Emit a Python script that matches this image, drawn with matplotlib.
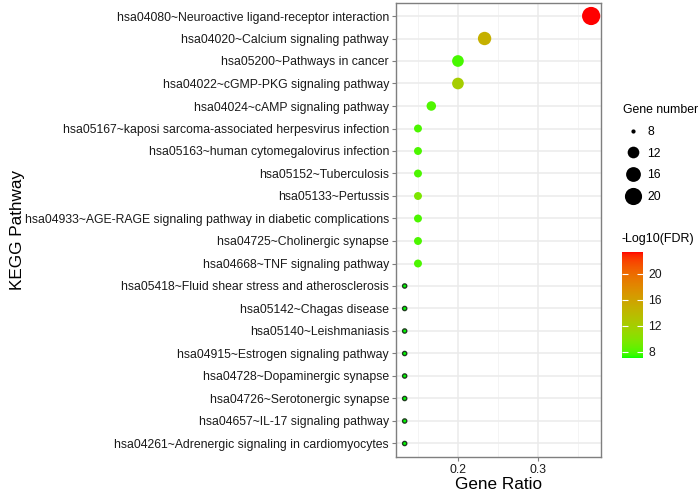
import numpy as np
import matplotlib
matplotlib.use("Agg")
import matplotlib.pyplot as plt
from matplotlib.colors import ListedColormap, Normalize
from matplotlib.lines import Line2D

plt.rcParams['font.family'] = ['Liberation Sans', 'DejaVu Sans']

# data, top row first
pathways = [
    "hsa04080~Neuroactive ligand-receptor interaction",
    "hsa04020~Calcium signaling pathway",
    "hsa05200~Pathways in cancer",
    "hsa04022~cGMP-PKG signaling pathway",
    "hsa04024~cAMP signaling pathway",
    "hsa05167~kaposi sarcoma-associated herpesvirus infection",
    "hsa05163~human cytomegalovirus infection",
    "hsa05152~Tuberculosis",
    "hsa05133~Pertussis",
    "hsa04933~AGE-RAGE signaling pathway in diabetic complications",
    "hsa04725~Cholinergic synapse",
    "hsa04668~TNF signaling pathway",
    "hsa05418~Fluid shear stress and atherosclerosis",
    "hsa05142~Chagas disease",
    "hsa05140~Leishmaniasis",
    "hsa04915~Estrogen signaling pathway",
    "hsa04728~Dopaminergic synapse",
    "hsa04726~Serotonergic synapse",
    "hsa04657~IL-17 signaling pathway",
    "hsa04261~Adrenergic signaling in cardiomyocytes",
]
gene_number = [22, 14, 12, 12, 10, 9, 9, 9, 9, 9, 9, 9, 8, 8, 8, 8, 8, 8, 8, 8]
gene_ratio = [22/60, 14/60, 12/60, 12/60, 10/60, 9/60, 9/60, 9/60, 9/60, 9/60,
              9/60, 9/60, 8/60, 8/60, 8/60, 8/60, 8/60, 8/60, 8/60, 8/60]
log_fdr = [23.4, 14.8, 7.8, 12.0, 8.0, 7.9, 7.9, 7.9, 9.6, 7.9,
           7.9, 7.9, 7.0, 7.0, 7.0, 7.0, 7.0, 7.0, 7.0, 7.0]
size_breaks = [8, 12, 16, 20]
color_ticks = [8, 12, 16, 20]


# green -> red gradient interpolated in Lab like ggplot
def srgb_to_lab(rgb):
    c = np.array(rgb, dtype=float)
    lin = np.where(c <= 0.04045, c / 12.92, ((c + 0.055) / 1.055) ** 2.4)
    m = np.array([[0.4124, 0.3576, 0.1805],
                  [0.2126, 0.7152, 0.0722],
                  [0.0193, 0.1192, 0.9505]])
    xyz = m @ lin / np.array([0.95047, 1.0, 1.08883])
    f = np.where(xyz > 0.008856, np.cbrt(xyz), 7.787 * xyz + 16 / 116)
    return np.array([116 * f[1] - 16, 500 * (f[0] - f[1]), 200 * (f[1] - f[2])])


def lab_to_srgb(lab):
    L, a, b = lab
    fy = (L + 16) / 116
    fx = fy + a / 500
    fz = fy - b / 200
    f = np.array([fx, fy, fz])
    xyz = np.where(f ** 3 > 0.008856, f ** 3, (f - 16 / 116) / 7.787)
    xyz = xyz * np.array([0.95047, 1.0, 1.08883])
    minv = np.array([[3.2406, -1.5372, -0.4986],
                     [-0.9689, 1.8758, 0.0415],
                     [0.0557, -0.2040, 1.0570]])
    lin = minv @ xyz
    lin = np.clip(lin, 0, 1)
    c = np.where(lin <= 0.0031308, 12.92 * lin, 1.055 * lin ** (1 / 2.4) - 0.055)
    return np.clip(c, 0, 1)


lo = srgb_to_lab([0, 1, 0])
hi = srgb_to_lab([1, 0, 0])
cmap = ListedColormap([lab_to_srgb(lo + (hi - lo) * t) for t in np.linspace(0, 1, 256)])
norm = Normalize(vmin=min(log_fdr), vmax=max(log_fdr))


def point_size(n):
    # area scale, range 1..6 like scale_size
    sz = 1 + 5 * np.sqrt((np.asarray(n, dtype=float) - 8) / (22 - 8))
    d_px = sz * 2.8 + 1.4
    return (d_px * 0.72) ** 2


fig = plt.figure(figsize=(6.99, 4.95), dpi=100)
ax = fig.add_axes([396 / 699, 1 - 457 / 495, 205 / 699, 454.5 / 495])

ypos = np.arange(len(pathways))
gn = np.array(gene_number)
small = gn == 8
ax.scatter(np.array(gene_ratio)[~small], ypos[~small], s=point_size(gn[~small]),
           c=np.array(log_fdr)[~small], cmap=cmap, norm=norm, linewidths=0, zorder=3)
ax.scatter(np.array(gene_ratio)[small], ypos[small], s=point_size(gn[small]),
           c=np.array(log_fdr)[small], cmap=cmap, norm=norm,
           edgecolors='#1f3d1f', linewidths=1.0, zorder=3)

ax.set_ylim(len(pathways) - 0.4, -0.6)
ax.set_xlim(0.1225, 0.379)
ax.set_yticks(ypos)
ax.set_yticklabels(pathways)
ax.set_xticks([0.2, 0.3])
ax.set_xticklabels(["0.2", "0.3"])
ax.set_xticks([0.15, 0.25, 0.35], minor=True)
ax.grid(True, which='major', color='#ebebeb', linewidth=1.1, zorder=0)
ax.grid(True, which='minor', axis='x', color='#f2f2f2', linewidth=0.6, zorder=0)
ax.set_axisbelow(True)
for sp in ax.spines.values():
    sp.set_color('#7f7f7f')
    sp.set_linewidth(1.0)
ax.tick_params(axis='both', which='major', length=3, color='#7f7f7f',
               labelsize=8.8, labelcolor='#1a1a1a', pad=2)
ax.tick_params(axis='x', which='minor', length=0)
ax.set_xlabel("Gene Ratio", fontsize=12.3, labelpad=1)
ax.set_ylabel("KEGG Pathway", fontsize=12.3)
ax.yaxis.set_label_coords((25 - 396) / 205, 0.5)

# size legend
handles = [Line2D([], [], linestyle='none', marker='o', color='black',
                  markersize=np.sqrt(point_size(b)), markeredgewidth=0) for b in size_breaks]
leg = fig.legend(handles, [str(b) for b in size_breaks], title="Gene number",
                 loc='upper left', bbox_to_anchor=(612 / 699, 1 - 93 / 495),
                 frameon=False, fontsize=8.8, title_fontsize=8.8,
                 labelspacing=0.8, handletextpad=0.4, handlelength=1.6)
leg._legend_box.align = "left"

# colour bar
fig.text(621 / 699, 1 - 239 / 495, "-Log10(FDR)", fontsize=9.0, va='center', ha='left')
cax = fig.add_axes([622 / 699, 1 - 358 / 495, 21 / 699, 106 / 495])
sm = plt.cm.ScalarMappable(cmap=cmap, norm=norm)
cb = fig.colorbar(sm, cax=cax)
cb.outline.set_visible(False)
cb.set_ticks(color_ticks)
cb.ax.tick_params(direction='in', color='white', length=4, width=0.8,
                  left=True, right=True, labelsize=8.8, labelcolor='#1a1a1a', pad=4)

fig.savefig("out.png", dpi=100)
